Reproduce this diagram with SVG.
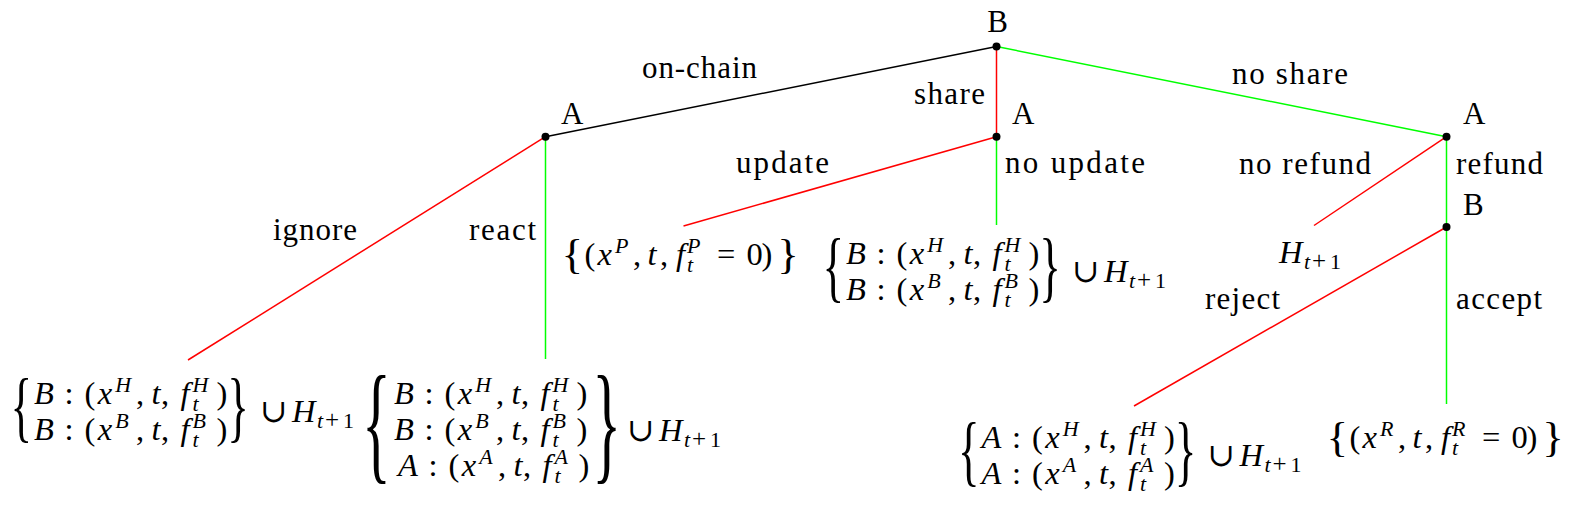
<svg xmlns="http://www.w3.org/2000/svg" width="1577" height="508" viewBox="0 0 1577 508" font-family="'Liberation Serif', 'DejaVu Serif', serif">
<style>
.t{font-family:"Liberation Serif","DejaVu Serif",serif;font-size:31px;fill:#000}
.m{font-family:"Liberation Serif","DejaVu Serif",serif;font-size:32.5px;fill:#000}
.i{font-style:italic}
.s{font-size:22px}
.p{font-size:25px}
.br{font-family:"Liberation Serif","DejaVu Serif",serif;font-size:30px;fill:#000}
.e{fill:none;stroke-width:1.5}
.r{stroke:#ff0000}.g{stroke:#00ff00}.k{stroke:#000}
.dot{fill:#000}
</style>
<rect width="1577" height="508" fill="#fff"/>
<g id="connectors">
<line class="e k" x1="996.5" y1="46.5" x2="545.5" y2="136.7"/>
<line class="e r" x1="996.5" y1="46.5" x2="996.5" y2="136.7"/>
<line class="e g" x1="996.5" y1="46.5" x2="1446.5" y2="136.7"/>
<line class="e r" x1="545.5" y1="136.7" x2="188" y2="360"/>
<line class="e g" x1="545.5" y1="136.7" x2="545.5" y2="359"/>
<line class="e r" x1="996.5" y1="136.7" x2="683.5" y2="226"/>
<line class="e g" x1="996.5" y1="136.7" x2="996.5" y2="225"/>
<line class="e r" x1="1446.5" y1="136.7" x2="1314" y2="225.5"/>
<line class="e g" x1="1446.5" y1="136.7" x2="1446.5" y2="227"/>
<line class="e r" x1="1446.5" y1="227" x2="1134" y2="406"/>
<line class="e g" x1="1446.5" y1="227" x2="1446.5" y2="404"/>
</g>
<g id="edge-labels">
<text class="t" x="642" y="78" textLength="115" lengthAdjust="spacing">on-chain</text>
<text class="t" x="914" y="104" textLength="71" lengthAdjust="spacing">share</text>
<text class="t" x="1232" y="84" textLength="116" lengthAdjust="spacing">no share</text>
<text class="t" x="736" y="173" textLength="93" lengthAdjust="spacing">update</text>
<text class="t" x="1005" y="173" textLength="140" lengthAdjust="spacing">no update</text>
<text class="t" x="1239" y="174" textLength="132" lengthAdjust="spacing">no refund</text>
<text class="t" x="1456" y="174" textLength="87" lengthAdjust="spacing">refund</text>
<text class="t" x="273" y="240" textLength="84" lengthAdjust="spacing">ignore</text>
<text class="t" x="469" y="240" textLength="67" lengthAdjust="spacing">react</text>
<text class="t" x="1205" y="309" textLength="75" lengthAdjust="spacing">reject</text>
<text class="t" x="1456" y="309" textLength="86" lengthAdjust="spacing">accept</text>
</g>
<g id="node-B-root">
<circle class="dot" cx="996.5" cy="46.5" r="4"/>
<text class="t" x="997.5" y="32" text-anchor="middle">B</text>
</g>
<g id="node-A-onchain">
<circle class="dot" cx="545.5" cy="136.7" r="4"/>
<text class="t" x="561" y="124">A</text>
</g>
<g id="node-A-share">
<circle class="dot" cx="996.5" cy="136.7" r="4"/>
<text class="t" x="1012" y="124">A</text>
</g>
<g id="node-A-noshare">
<circle class="dot" cx="1446.5" cy="136.7" r="4"/>
<text class="t" x="1463" y="124">A</text>
</g>
<g id="node-B-refund">
<circle class="dot" cx="1446.5" cy="227" r="4"/>
<text class="t" x="1463" y="215">B</text>
</g>
<g id="leaf-ignore">
<text class="br" transform="translate(10.5,413) scale(1.5,2.63)" y="7.5">{</text>
<text class="m" transform="translate(34,404)"><tspan class="i" x="0" y="0">B</tspan><tspan x="30.5">:</tspan><tspan x="50.5">(</tspan><tspan class="i" x="63.8">x</tspan><tspan class="i s" x="81.2" y="-12">H</tspan><tspan x="102" y="0">,</tspan><tspan class="i" x="117.6">t</tspan><tspan x="127">,</tspan><tspan class="i" x="146.5">f</tspan><tspan class="i s" x="158.5" y="7">t</tspan><tspan class="i s" x="158.5" y="-12">H</tspan><tspan x="182.5" y="0">)</tspan></text>
<text class="m" transform="translate(34,440)"><tspan class="i" x="0" y="0">B</tspan><tspan x="30.5">:</tspan><tspan x="50.5">(</tspan><tspan class="i" x="63.8">x</tspan><tspan class="i s" x="81.2" y="-12">B</tspan><tspan x="102" y="0">,</tspan><tspan class="i" x="117.6">t</tspan><tspan x="127">,</tspan><tspan class="i" x="146.5">f</tspan><tspan class="i s" x="158.5" y="7">t</tspan><tspan class="i s" x="158.5" y="-12">B</tspan><tspan x="182.5" y="0">)</tspan></text>
<text class="br" transform="translate(227.2,413) scale(1.5,2.63)" y="7.5">}</text>
<text class="m" transform="translate(260,421.5)"><tspan x="0" y="0">∪</tspan><tspan class="i" x="32">H</tspan><tspan class="i s" x="57" y="6">t</tspan><tspan class="p" x="65">+</tspan><tspan class="s" x="83">1</tspan></text>
</g>
<g id="leaf-react">
<text class="br" transform="translate(362,433.5) scale(2,4.38)" y="7.5">{</text>
<text class="m" transform="translate(394,404)"><tspan class="i" x="0" y="0">B</tspan><tspan x="30.5">:</tspan><tspan x="50.5">(</tspan><tspan class="i" x="63.8">x</tspan><tspan class="i s" x="81.2" y="-12">H</tspan><tspan x="102" y="0">,</tspan><tspan class="i" x="117.6">t</tspan><tspan x="127">,</tspan><tspan class="i" x="146.5">f</tspan><tspan class="i s" x="158.5" y="7">t</tspan><tspan class="i s" x="158.5" y="-12">H</tspan><tspan x="182.5" y="0">)</tspan></text>
<text class="m" transform="translate(394,440)"><tspan class="i" x="0" y="0">B</tspan><tspan x="30.5">:</tspan><tspan x="50.5">(</tspan><tspan class="i" x="63.8">x</tspan><tspan class="i s" x="81.2" y="-12">B</tspan><tspan x="102" y="0">,</tspan><tspan class="i" x="117.6">t</tspan><tspan x="127">,</tspan><tspan class="i" x="146.5">f</tspan><tspan class="i s" x="158.5" y="7">t</tspan><tspan class="i s" x="158.5" y="-12">B</tspan><tspan x="182.5" y="0">)</tspan></text>
<text class="m" transform="translate(398,476)"><tspan class="i" x="0" y="0">A</tspan><tspan x="30.5">:</tspan><tspan x="50.5">(</tspan><tspan class="i" x="63.8">x</tspan><tspan class="i s" x="81.2" y="-12">A</tspan><tspan x="100" y="0">,</tspan><tspan class="i" x="115.6">t</tspan><tspan x="125">,</tspan><tspan class="i" x="144.5">f</tspan><tspan class="i s" x="156.5" y="7">t</tspan><tspan class="i s" x="156.5" y="-12">A</tspan><tspan x="180.5" y="0">)</tspan></text>
<text class="br" transform="translate(592.2,433.5) scale(2,4.38)" y="7.5">}</text>
<text class="m" transform="translate(627,441)"><tspan x="0" y="0">∪</tspan><tspan class="i" x="32">H</tspan><tspan class="i s" x="57" y="6">t</tspan><tspan class="p" x="65">+</tspan><tspan class="s" x="83">1</tspan></text>
</g>
<g id="leaf-update">
<text class="br" transform="translate(561.5,257.5) scale(1.5,1.43)" y="7.5">{</text>
<text class="m" transform="translate(566,265)"><tspan x="18.5" y="0">(</tspan><tspan class="i" x="31.5">x</tspan><tspan class="i s" x="49" y="-12">P</tspan><tspan x="67" y="0">,</tspan><tspan class="i" x="81.6">t</tspan><tspan x="94">,</tspan><tspan class="i" x="110">f</tspan><tspan class="i s" x="121" y="7">t</tspan><tspan class="i s" x="121" y="-12">P</tspan><tspan x="151" y="0">=</tspan><tspan x="180.5">0</tspan><tspan x="195.6">)</tspan></text>
<text class="br" transform="translate(777.2,257.5) scale(1.5,1.43)" y="7.5">}</text>
</g>
<g id="leaf-noupdate">
<text class="br" transform="translate(822.5,273) scale(1.5,2.63)" y="7.5">{</text>
<text class="m" transform="translate(846,264)"><tspan class="i" x="0" y="0">B</tspan><tspan x="30.5">:</tspan><tspan x="50.5">(</tspan><tspan class="i" x="63.8">x</tspan><tspan class="i s" x="81.2" y="-12">H</tspan><tspan x="102" y="0">,</tspan><tspan class="i" x="117.6">t</tspan><tspan x="127">,</tspan><tspan class="i" x="146.5">f</tspan><tspan class="i s" x="158.5" y="7">t</tspan><tspan class="i s" x="158.5" y="-12">H</tspan><tspan x="182.5" y="0">)</tspan></text>
<text class="m" transform="translate(846,300)"><tspan class="i" x="0" y="0">B</tspan><tspan x="30.5">:</tspan><tspan x="50.5">(</tspan><tspan class="i" x="63.8">x</tspan><tspan class="i s" x="81.2" y="-12">B</tspan><tspan x="102" y="0">,</tspan><tspan class="i" x="117.6">t</tspan><tspan x="127">,</tspan><tspan class="i" x="146.5">f</tspan><tspan class="i s" x="158.5" y="7">t</tspan><tspan class="i s" x="158.5" y="-12">B</tspan><tspan x="182.5" y="0">)</tspan></text>
<text class="br" transform="translate(1039.2,273) scale(1.5,2.63)" y="7.5">}</text>
<text class="m" transform="translate(1072,281.5)"><tspan x="0" y="0">∪</tspan><tspan class="i" x="32">H</tspan><tspan class="i s" x="57" y="6">t</tspan><tspan class="p" x="65">+</tspan><tspan class="s" x="83">1</tspan></text>
</g>
<g id="leaf-norefund">
<text class="m" transform="translate(1279,263)"><tspan class="i" x="0" y="0">H</tspan><tspan class="i s" x="25" y="6">t</tspan><tspan class="p" x="33">+</tspan><tspan class="s" x="51">1</tspan></text>
</g>
<g id="leaf-reject">
<text class="br" transform="translate(958,457) scale(1.5,2.63)" y="7.5">{</text>
<text class="m" transform="translate(981.5,448)"><tspan class="i" x="0" y="0">A</tspan><tspan x="30.5">:</tspan><tspan x="50.5">(</tspan><tspan class="i" x="63.8">x</tspan><tspan class="i s" x="81.2" y="-12">H</tspan><tspan x="102" y="0">,</tspan><tspan class="i" x="117.6">t</tspan><tspan x="127">,</tspan><tspan class="i" x="146.5">f</tspan><tspan class="i s" x="158.5" y="7">t</tspan><tspan class="i s" x="158.5" y="-12">H</tspan><tspan x="182.5" y="0">)</tspan></text>
<text class="m" transform="translate(981.5,484)"><tspan class="i" x="0" y="0">A</tspan><tspan x="30.5">:</tspan><tspan x="50.5">(</tspan><tspan class="i" x="63.8">x</tspan><tspan class="i s" x="81.2" y="-12">A</tspan><tspan x="102" y="0">,</tspan><tspan class="i" x="117.6">t</tspan><tspan x="127">,</tspan><tspan class="i" x="146.5">f</tspan><tspan class="i s" x="158.5" y="7">t</tspan><tspan class="i s" x="158.5" y="-12">A</tspan><tspan x="182.5" y="0">)</tspan></text>
<text class="br" transform="translate(1174.7,457) scale(1.5,2.63)" y="7.5">}</text>
<text class="m" transform="translate(1207.5,465.5)"><tspan x="0" y="0">∪</tspan><tspan class="i" x="32">H</tspan><tspan class="i s" x="57" y="6">t</tspan><tspan class="p" x="65">+</tspan><tspan class="s" x="83">1</tspan></text>
</g>
<g id="leaf-accept">
<text class="br" transform="translate(1326.5,440.5) scale(1.5,1.43)" y="7.5">{</text>
<text class="m" transform="translate(1331,448)"><tspan x="18.5" y="0">(</tspan><tspan class="i" x="31.5">x</tspan><tspan class="i s" x="49" y="-12">R</tspan><tspan x="67" y="0">,</tspan><tspan class="i" x="81.6">t</tspan><tspan x="94">,</tspan><tspan class="i" x="110">f</tspan><tspan class="i s" x="121" y="7">t</tspan><tspan class="i s" x="121" y="-12">R</tspan><tspan x="151" y="0">=</tspan><tspan x="180.5">0</tspan><tspan x="195.6">)</tspan></text>
<text class="br" transform="translate(1542.2,440.5) scale(1.5,1.43)" y="7.5">}</text>
</g>
</svg>
